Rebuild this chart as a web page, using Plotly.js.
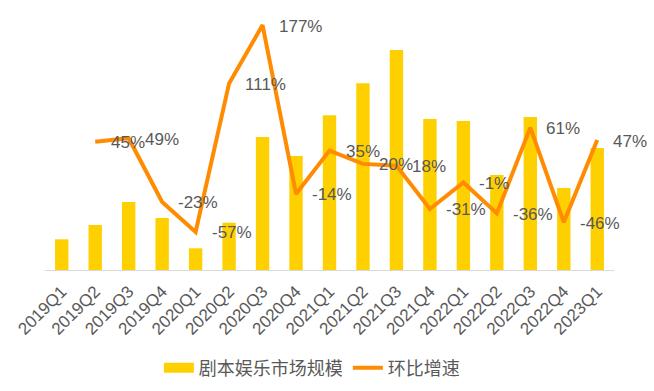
<!DOCTYPE html>
<html>
<head>
<meta charset="utf-8">
<script src="https://cdn.plot.ly/plotly-3.0.1.min.js"></script>
<style>html,body{margin:0;padding:0;background:#fff;}#chart{width:654px;height:391px;}</style>
</head>
<body>
<div id="chart"></div>
<script>
// Categories (quarters)
const quarters = ['2019Q1','2019Q2','2019Q3','2019Q4','2020Q1','2020Q2','2020Q3','2020Q4','2021Q1','2021Q2','2021Q3','2021Q4','2022Q1','2022Q2','2022Q3','2022Q4','2023Q1'];
// 剧本娱乐市场规模 (estimated, relative units)
const marketSize = [30.7, 45, 68, 52, 21.7, 47.3, 133, 114, 154.7, 186.7, 220, 151, 149, 95, 153, 82, 122];
// 环比增速 (%)
const qoqGrowth = [null, 45, 49, -23, -57, 111, 177, -14, 35, 20, 18, -31, -1, -36, 61, -46, 47];

const seriesBarName = '剧本娱乐市场规模';
const seriesLineName = '环比增速';

const barColor = '#FFD000';
const lineColor = '#FF8C00';
const textColor = '#595959';
const fontFam = '"Liberation Sans", Arial, "Noto Sans CJK SC", sans-serif';

const traces = [
  {
    type: 'bar', x: quarters, y: marketSize, name: seriesBarName,
    marker: {color: barColor}, showlegend: false, hoverinfo: 'skip'
  },
  {
    // legend-only proxy for the bar series (wide swatch)
    type: 'scatter', mode: 'lines', x: [quarters[0]], y: [null], name: seriesBarName,
    line: {color: barColor, width: 10}, showlegend: true, hoverinfo: 'skip'
  },
  {
    type: 'scatter', mode: 'lines', x: quarters, y: qoqGrowth, yaxis: 'y2', name: seriesLineName,
    line: {color: lineColor, width: 4}, connectgaps: false, hoverinfo: 'skip'
  }
];

const annotations = quarters.map((q, i) => qoqGrowth[i] === null ? null : ({
  x: q, y: qoqGrowth[i], xref: 'x', yref: 'y2',
  text: qoqGrowth[i] + '%', showarrow: false,
  xanchor: 'left', yanchor: 'middle', xshift: 14, yshift: -1,
  font: {family: fontFam, size: 17, color: textColor}
})).filter(a => a);

const layout = {
  width: 654, height: 391,
  margin: {l: 45, r: 40, t: 10, b: 121, autoexpand: false},
  paper_bgcolor: '#fff', plot_bgcolor: '#fff',
  bargap: 0.6,
  font: {family: fontFam, color: textColor},
  xaxis: {
    type: 'category', categoryorder: 'array', categoryarray: quarters,
    range: [-0.5, quarters.length - 0.5], autorange: false,
    tickangle: -45, showgrid: false, zeroline: false, automargin: false,
    showline: true, linecolor: '#D9D9D9', linewidth: 1, ticks: '', ticklabelstandoff: 4,
    tickfont: {family: fontFam, size: 17, color: textColor}
  },
  yaxis: {range: [0, 260], autorange: false, visible: false, showgrid: false, zeroline: false, automargin: false},
  yaxis2: {range: [-100, 194], autorange: false, overlaying: 'y', side: 'right', visible: false, showgrid: false, zeroline: false, automargin: false},
  showlegend: true,
  legend: {
    orientation: 'h', x: 0.469, xanchor: 'center', y: -0.377, yanchor: 'middle',
    font: {family: '"Noto Sans CJK SC", sans-serif', size: 18, color: textColor},
    itemwidth: 30, traceorder: 'normal'
  },
  annotations: annotations
};

Plotly.newPlot('chart', traces, layout, {displayModeBar: false, staticPlot: true});
</script>
</body>
</html>
